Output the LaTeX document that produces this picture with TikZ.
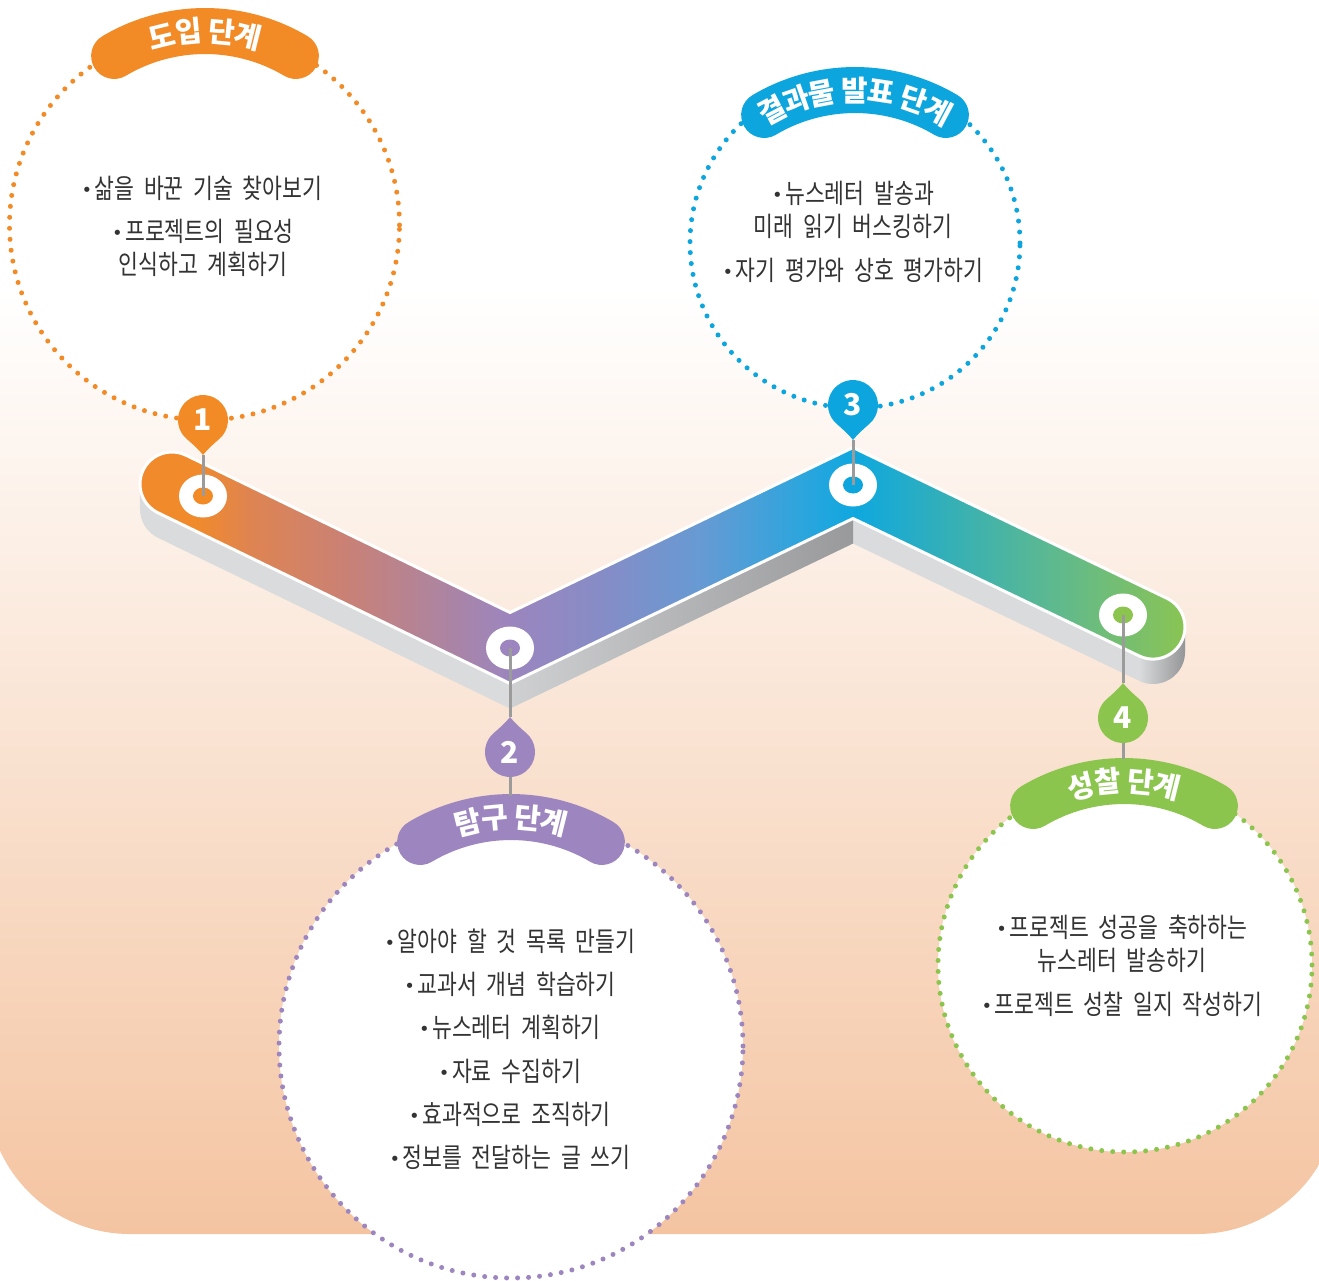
\documentclass[tikz,border=0pt]{standalone}
\usepackage{fontspec}
\setmainfont{Noto Sans CJK KR}
\newfontfamily\bodyfont{Noto Sans CJK KR}[FakeStretch=0.8,WordSpace=2]
\newfontfamily\dejavu{DejaVu Sans}
\usetikzlibrary{decorations.text}

\definecolor{cOr}{HTML}{F28A26}
\definecolor{cPu}{HTML}{9D86BF}
\definecolor{cBl}{HTML}{0DA5DE}
\definecolor{cGr}{HTML}{8CC54E}
\definecolor{bgpeach}{HTML}{F4C4A1}
\definecolor{txt}{HTML}{333333}
\definecolor{connc}{HTML}{9B9B9B}
\definecolor{sideg}{HTML}{DADBDD}
\definecolor{g0}{HTML}{F08A2B}
\definecolor{g1}{HTML}{DE8452}
\definecolor{g2}{HTML}{C98176}
\definecolor{g3}{HTML}{B1849A}
\definecolor{g4}{HTML}{9C85BE}
\definecolor{g5}{HTML}{878CC6}
\definecolor{g6}{HTML}{679AD3}
\definecolor{g7}{HTML}{2DA5DD}
\definecolor{g8}{HTML}{0EA8DF}
\definecolor{g9}{HTML}{36B0B5}
\definecolor{g10}{HTML}{5EB98F}
\definecolor{g11}{HTML}{80C162}
\definecolor{g12}{HTML}{8BC550}

\pgfdeclarehorizontalshading{ribbonshade}{100bp}{color(0bp)=(g0); color(25bp)=(g0); color(27.87bp)=(g0); color(30.5bp)=(g1); color(35.05bp)=(g2); color(38.88bp)=(g3); color(42.7bp)=(g4); color(47.01bp)=(g5); color(51.79bp)=(g6); color(56.58bp)=(g7); color(59.11bp)=(g8); color(63.76bp)=(g9); color(68.54bp)=(g10); color(73.33bp)=(g11); color(75bp)=(g12); color(100bp)=(g12)}

\newcommand{\bul}{\raisebox{2pt}{\dejavu\fontsize{18}{18}\selectfont •}\hspace{2.5pt}}
\newcommand{\bandfont}{\bfseries\fontsize{29}{32}\selectfont\color{white}}
\newcommand{\band}[4]{%
  \draw[line width=46pt, line cap=round, draw=#3] ([shift={(120.7:178)}]#1,#2) arc[start angle=120.7, end angle=59.3, radius=178];
  \path[decorate, decoration={text along path, text={|\bandfont|#4}, text align=center, raise=-11pt}] ([shift={(132:178)}]#1,#2) arc[start angle=132, end angle=48, radius=178];
}

\begin{document}
\begin{tikzpicture}[x=1pt,y=1pt,
  bodytxt/.style={font=\bodyfont\fontsize{27}{33}\selectfont, text=txt, align=center, inner sep=0pt},
  numtxt/.style={font=\bfseries\fontsize{30}{30}\selectfont, text=white, inner sep=0pt},
  conn/.style={draw=connc, line width=3pt},
  dotring/.style={line width=5pt, line cap=round, dash pattern=on 0pt off 11pt},
  droppin/.pic={\fill[pic actions] (0,-35) .. controls (3,-31) and (9.9,-24.3) .. (-50:25) arc[start angle=-50, end angle=230, radius=25] .. controls (-9.9,-24.3) and (-3,-31) .. cycle;}]

\useasboundingbox (0,0) rectangle (1319,-1280);
\fill[white] (0,0) rectangle (1319,-1280);

% background
\begin{scope}
\clip (0,0) rectangle (1319,-1280);
\shade[top color=white, bottom color=bgpeach] (-13,-290) -- (1339,-290) -- (1339,-1092) arc[start angle=0, end angle=-90, radius=142] -- (130,-1234) arc[start angle=270, end angle=180, radius=143] -- cycle;
\end{scope}

% circles
\fill[white] (204.5,-225) circle[radius=195];
\draw[dotring, draw=cOr] (204.5,-225) circle[radius=195];
\fill[white] (511,-1046) circle[radius=232];
\draw[dotring, draw=cPu] (511,-1046) circle[radius=232];
\fill[white] (855,-243) circle[radius=165];
\draw[dotring, draw=cBl] (855,-243) circle[radius=165];
\fill[white] (1125,-965) circle[radius=187];
\draw[dotring, draw=cGr] (1125,-965) circle[radius=187];

% bands
\band{205}{-209}{cOr}{도입 단계}
\band{511}{-995}{cPu}{탐구 단계}
\band{855}{-268}{cBl}{결과물 발표 단계}
\band{1124}{-959}{cGr}{성찰 단계}

% ribbon side
\fill[sideg] (140,-484) arc[start angle=180, end angle=244.1, radius=32] -- (510,-683.5) -- (853,-518.5) -- (1139.2,-655.8) arc[start angle=-115.6, end angle=0, radius=32] -- ++(0,-25) arc[start angle=0, end angle=-115.6, radius=32] -- (853,-543.5) -- (510,-708.5) -- (158,-537.8) arc[start angle=244.1, end angle=180, radius=32] -- cycle;
\shade[left color=sideg!95!black, right color=sideg!70!black] (510,-683.5) -- (853,-518.5) -- (853,-543.5) -- (510,-708.5) -- cycle;
\shade[left color=sideg, right color=sideg!68!black] (1139.2,-655.8) arc[start angle=-115.6, end angle=0, radius=32] -- ++(0,-25) arc[start angle=0, end angle=-115.6, radius=32] -- cycle;

% ribbon top face
\shade[shading=ribbonshade] (186,-455.2) -- (510,-612.5) -- (853,-447.5) -- (1166.8,-598.2) arc[start angle=64.4, end angle=-115.6, radius=32] -- (853,-518.5) -- (510,-683.5) -- (158,-512.8) arc[start angle=244.1, end angle=64.1, radius=32] -- cycle;
\draw[white, line width=3pt, line join=round] (186,-455.2) -- (510,-612.5) -- (853,-447.5) -- (1166.8,-598.2) arc[start angle=64.4, end angle=-115.6, radius=32] -- (853,-518.5) -- (510,-683.5) -- (158,-512.8) arc[start angle=244.1, end angle=64.1, radius=32] -- cycle;

% rings
\coordinate (r1) at (203,-496);
\coordinate (r2) at (510,-648);
\coordinate (r3) at (853,-485);
\coordinate (r4) at (1123,-615);
\foreach \p/\c in {r1/cOr, r2/cPu, r3/cBl, r4/cGr}{
  \fill[white] (\p) ellipse[x radius=24, y radius=21.5];
  \fill[\c] (\p) ellipse[x radius=10, y radius=8.5];
}

% pin coordinates
\coordinate (p1) at (203,-420);
\coordinate (p2) at (510,-752);
\coordinate (p3) at (853,-405);
\coordinate (p4) at (1123,-718);
\coordinate (p1tip) at (203,-455);
\coordinate (p2tip) at (510,-717);
\coordinate (p3tip) at (853,-440);
\coordinate (p4tip) at (1123,-683);
\coordinate (p2bot) at (510,-777);
\coordinate (p4bot) at (1123,-743);
\coordinate (b2top) at (510,-796);
\coordinate (b4top) at (1123,-759);

% connectors
\draw[conn] (r1) -- (p1tip);
\draw[conn] (r3) -- (p3tip);
\draw[conn] (r2) -- (p2tip);
\draw[conn] (p2bot) -- (b2top);
\draw[conn] (r4) -- (p4tip);
\draw[conn] (p4bot) -- (b4top);

% pins
\pic[fill=cOr] at (p1) {droppin};
\pic[fill=cBl] at (p3) {droppin};
\pic[fill=cPu, yscale=-1] at (p2) {droppin};
\pic[fill=cGr, yscale=-1] at (p4) {droppin};
\node[numtxt] (n1) at (p1) {1};
\node[numtxt] (n2) at (p2) {2};
\node[numtxt] (n3) at (p3) {3};
\node[numtxt] (n4) at (p4) {4};

% texts
\node[bodytxt] (t11) at (202,-188) {\bul 삶을 바꾼 기술 찾아보기};
\node[bodytxt] (t12) at (203,-248) {\bul 프로젝트의 필요성\\인식하고 계획하기};

\node[bodytxt] (t31) at (853,-209.5) {\bul 뉴스레터 발송과\\미래 읽기 버스킹하기};
\node[bodytxt] (t32) at (853,-270) {\bul 자기 평가와 상호 평가하기};

\node[bodytxt] (t21) at (510,-941) {\bul 알아야 할 것 목록 만들기};
\node[bodytxt] (t22) at (510,-984) {\bul 교과서 개념 학습하기};
\node[bodytxt] (t23) at (510,-1027) {\bul 뉴스레터 계획하기};
\node[bodytxt] (t24) at (510,-1071) {\bul 자료 수집하기};
\node[bodytxt] (t25) at (510,-1114) {\bul 효과적으로 조직하기};
\node[bodytxt] (t26) at (510,-1157) {\bul 정보를 전달하는 글 쓰기};

\node[bodytxt] (t41) at (1122,-944) {\bul 프로젝트 성공을 축하하는\\뉴스레터 발송하기};
\node[bodytxt] (t42) at (1122,-1004) {\bul 프로젝트 성찰 일지 작성하기};

\end{tikzpicture}
\end{document}
